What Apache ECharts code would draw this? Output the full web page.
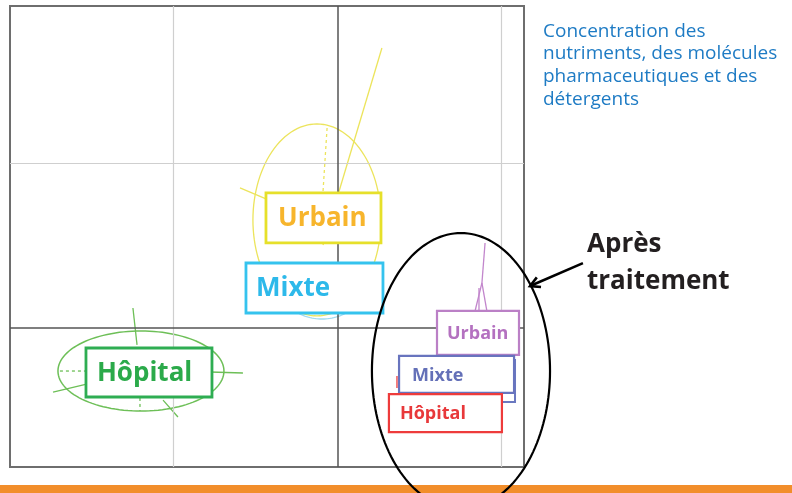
<!DOCTYPE html>
<html>
<head>
<meta charset="utf-8">
<script src="https://cdn.jsdelivr.net/npm/echarts@6/dist/echarts.min.js"></script>
<style>
  html, body { margin: 0; padding: 0; background: #fff; }
  #chart { width: 792px; height: 493px; }
</style>
</head>
<body>
<div id="chart"></div>
<script>
// axis extents (PCA plane, dim 1 / dim 2)
const xRange = [-2, 1.14];
const yRange = [-0.85, 1.96];
const xGridLines = [-1, 1];
const yGridLines = [1];

// confidence ellipses
const ellipseNames = ['Urbain', 'Mixte', 'Hôpital', 'Après traitement'];
const ellipseCx = [-0.125, -0.094, -1.2, 0.755];
const ellipseCy = [0.656, 0.217, -0.265, -0.265];
const ellipseRx = [0.391, 0.232, 0.507, 0.544];
const ellipseRy = [0.585, 0.165, 0.244, 0.841];

// variable / axis segments drawn around the groups
const segGroup = ['Urbain', 'Urbain', 'Urbain', 'Hôpital', 'Hôpital', 'Hôpital', 'Hôpital', 'Hôpital', 'Hôpital',
  'Urbain2', 'Urbain2', 'Urbain2', 'Urbain2', 'Hôpital2'];
const segX1 = [0.272, -0.595, -0.063, -1.249, -0.778, -1.737, -1.065, -1.695, -1.206, 0.902, 0.883, 0.883, 0.865, 0.364];
const segY1 = [1.704, 0.851, 1.216, 0.119, -0.271, -0.393, -0.442, -0.265, -0.429, 0.515, 0.272, 0.272, 0.241, -0.295];
const segX2 = [-0.088, -0.436, -0.088, -1.224, -0.577, -1.481, -0.974, -1.536, -1.206, 0.883, 0.841, 0.913, 0.865, 0.364];
const segY2 = [0.503, 0.784, 0.826, -0.106, -0.277, -0.332, -0.545, -0.265, -0.509, 0.272, 0.101, 0.101, 0.101, -0.368];
const segDashed = [false, false, true, false, false, false, false, true, true, false, false, false, false, false];

// group labels (box centres)
const labelTexts = ['Urbain', 'Mixte', 'Hôpital', 'Urbain', '', 'Mixte', 'Hôpital'];
const labelX = [-0.085, -0.14, -1.151, 0.859, 0.743, 0.728, 0.66];
const labelY = [0.668, 0.241, -0.274, -0.033, -0.326, -0.286, -0.521];

// arrow "Après traitement" -> ellipse
const arrowFrom = [1.5, 0.393];
const arrowTo = [1.177, 0.253];

const ellipseStyle = {
  'Urbain': { color: '#ECE45C', width: 1.3 },
  'Mixte': { color: '#A3DAEF', width: 1.3 },
  'Hôpital': { color: '#6DBF57', width: 1.5 },
  'Après traitement': { color: '#000', width: 2.2 },
};
const segColor = { 'Urbain': '#ECE45C', 'Hôpital': '#6DBF57', 'Urbain2': '#C286CC', 'Hôpital2': '#EE3B3B' };
const boxStyle = [
  { w: 115, h: 50, border: '#E6E02A', color: '#F7B52C', size: 26, pad: 12, lw: 2.8 },
  { w: 137, h: 50, border: '#35C3EE', color: '#2DB9EA', size: 26, pad: 10, lw: 2.8 },
  { w: 126, h: 49, border: '#2EAD52', color: '#2BAA4A', size: 26, pad: 11, lw: 2.8 },
  { w: 82, h: 44, border: '#BB80C6', color: '#B471C0', size: 18, pad: 10, lw: 2.2 },
  { w: 112, h: 42, border: '#6A78C0', color: '#6470B8', size: 18, pad: 13, lw: 2 },
  { w: 115, h: 37, border: '#6874BE', color: '#6470B8', size: 18, pad: 13, lw: 2.2 },
  { w: 113, h: 38, border: '#EE3B3B', color: '#E8383A', size: 18, pad: 11, lw: 2.2 },
];

const chart = echarts.init(document.getElementById('chart'), null, { renderer: 'canvas' });

const gridLineData = [
  ...xGridLines.map((v) => ({ xAxis: v, lineStyle: { color: '#cfcfcf', width: 1.2, type: 'solid' } })),
  ...yGridLines.map((v) => ({ yAxis: v, lineStyle: { color: '#cfcfcf', width: 1.2, type: 'solid' } })),
  { xAxis: 0, lineStyle: { color: '#555', width: 1.5, type: 'solid' } },
  { yAxis: 0, lineStyle: { color: '#555', width: 1.5, type: 'solid' } },
];

const options = {
  backgroundColor: '#fff',
  animation: false,
  grid: { left: 10, top: 6, width: 514, height: 461, show: true, borderColor: '#6e6e6e', borderWidth: 2, backgroundColor: 'transparent' },
  xAxis: { type: 'value', min: xRange[0], max: xRange[1], show: false, splitLine: { show: false } },
  yAxis: { type: 'value', min: yRange[0], max: yRange[1], show: false, splitLine: { show: false } },
  graphic: [
    { type: 'rect', z: 1, shape: { x: 0, y: 485, width: 792, height: 8 }, style: { fill: '#F28E2B' } },
    {
      type: 'text', left: 543, top: 20, z: 10,
      style: {
        text: 'Concentration des\nnutriments, des molécules\npharmaceutiques et des\ndétergents',
        fill: '#1E7BC4', font: '19px "Open Sans"', lineHeight: 22.7,
      },
    },
    {
      type: 'text', left: 587, top: 226, z: 10,
      style: { text: 'Après\ntraitement', fill: '#231F20', font: 'bold 26px "Open Sans"', lineHeight: 37 },
    },
  ],
  series: [
    {
      type: 'line', data: [], silent: true, z: 1,
      markLine: { silent: true, symbol: ['none', 'none'], label: { show: false }, data: gridLineData },
    },
    {
      type: 'custom', z: 3, clip: false,
      data: segX1.map((x, i) => [x, segY1[i], segX2[i], segY2[i]]),
      renderItem: (params, api) => {
        const i = params.dataIndex;
        const a = api.coord([api.value(0), api.value(1)]);
        const b = api.coord([api.value(2), api.value(3)]);
        return {
          type: 'line',
          shape: { x1: a[0], y1: a[1], x2: b[0], y2: b[1] },
          style: { stroke: segColor[segGroup[i]], lineWidth: 1.3, lineDash: segDashed[i] ? [3, 3] : null },
        };
      },
    },
    {
      type: 'custom', z: 4, clip: false,
      data: ellipseCx.map((x, i) => [x, ellipseCy[i], ellipseRx[i], ellipseRy[i]]),
      renderItem: (params, api) => {
        const name = ellipseNames[params.dataIndex];
        if (name === 'Après traitement') return null;
        const cx = api.value(0), cy = api.value(1), rx = api.value(2), ry = api.value(3);
        const points = [];
        for (let k = 0; k < 120; k++) {
          const t = (k / 120) * Math.PI * 2;
          points.push(api.coord([cx + rx * Math.cos(t), cy + ry * Math.sin(t)]));
        }
        const st = ellipseStyle[name];
        return { type: 'polygon', shape: { points }, style: { fill: 'none', stroke: st.color, lineWidth: st.width } };
      },
    },
    {
      type: 'custom', z: 6, clip: false,
      data: labelX.map((x, i) => [x, labelY[i]]),
      renderItem: (params, api) => {
        const i = params.dataIndex;
        const p = api.coord([api.value(0), api.value(1)]);
        const s = boxStyle[i];
        return {
          type: 'group',
          children: [
            {
              type: 'rect',
              shape: { x: p[0] - s.w / 2, y: p[1] - s.h / 2, width: s.w, height: s.h },
              style: { fill: '#fff', stroke: s.border, lineWidth: s.lw },
            },
            {
              type: 'text', x: p[0] - s.w / 2 + s.pad, y: p[1] + 1,
              style: { text: labelTexts[i], fill: s.color, font: `bold ${s.size}px "Open Sans"`, align: 'left', verticalAlign: 'middle' },
            },
          ],
        };
      },
    },
    {
      // "après traitement" ellipse and arrow, drawn over everything
      type: 'custom', z: 8, clip: false,
      data: [[ellipseCx[3], ellipseCy[3], ellipseRx[3], ellipseRy[3]]],
      renderItem: (params, api) => {
        const cx = api.value(0), cy = api.value(1), rx = api.value(2), ry = api.value(3);
        const points = [];
        for (let k = 0; k < 160; k++) {
          const t = (k / 160) * Math.PI * 2;
          points.push(api.coord([cx + rx * Math.cos(t), cy + ry * Math.sin(t)]));
        }
        const a = api.coord(arrowFrom);
        const b = api.coord(arrowTo);
        const ang = Math.atan2(b[1] - a[1], b[0] - a[0]);
        const head = 11;
        const w1 = [b[0] - head * Math.cos(ang - 0.5), b[1] - head * Math.sin(ang - 0.5)];
        const w2 = [b[0] - head * Math.cos(ang + 0.5), b[1] - head * Math.sin(ang + 0.5)];
        return {
          type: 'group',
          children: [
            { type: 'polygon', shape: { points }, style: { fill: 'none', stroke: '#000', lineWidth: 2.2 } },
            { type: 'line', shape: { x1: a[0], y1: a[1], x2: b[0], y2: b[1] }, style: { stroke: '#000', lineWidth: 2.6 } },
            { type: 'polyline', shape: { points: [w1, b, w2] }, style: { fill: 'none', stroke: '#000', lineWidth: 2.6 } },
          ],
        };
      },
    },
  ],
};

chart.setOption(options);
</script>
</body>
</html>
